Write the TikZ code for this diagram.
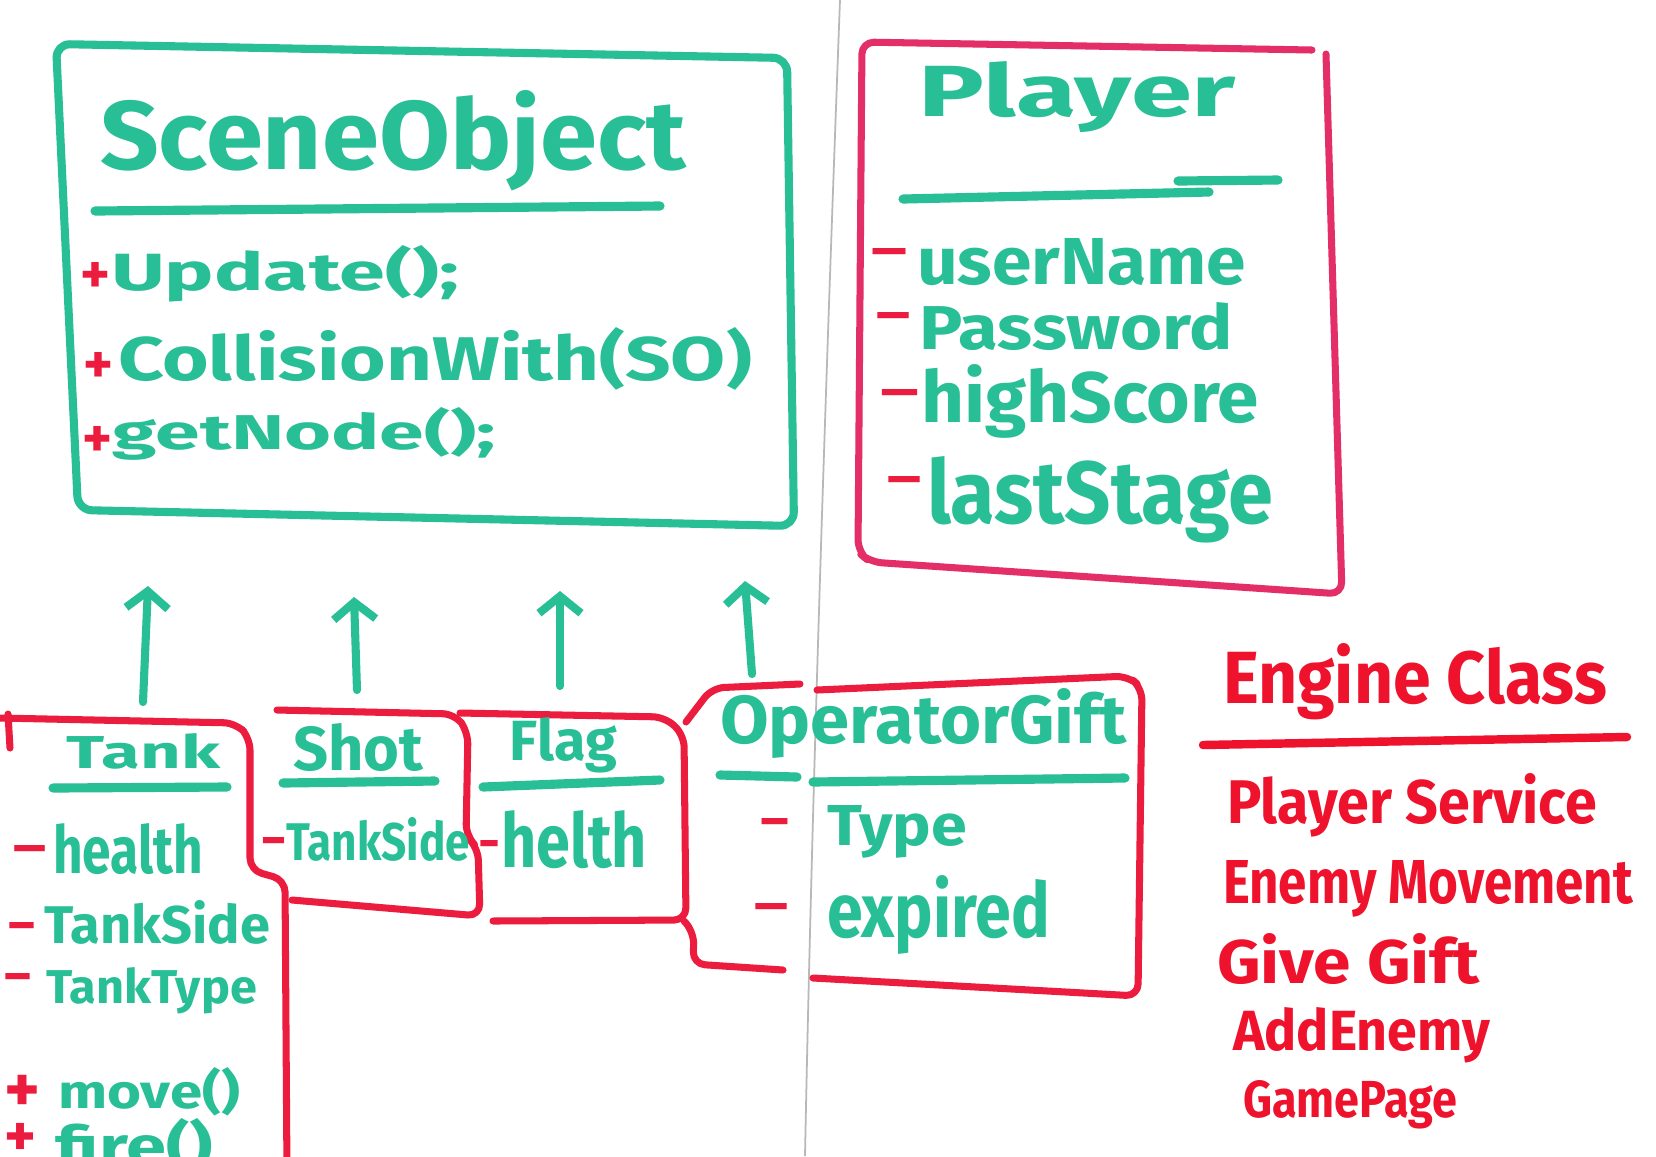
\documentclass[tikz,border=0pt]{standalone}
\usepackage{fontspec}
\setmainfont{Fira Sans}
\usepackage{graphicx}
\usetikzlibrary{arrows.meta}
\definecolor{mkgreen}{RGB}{40,190,150}
\definecolor{mkred}{RGB}{236,28,62}
\definecolor{mkpink}{RGB}{228,46,104}
\definecolor{mkink}{RGB}{238,18,44}
\newlength\px
\setlength\px{0.01cm}
% handwritten-like text fitted to a measured width and height
\newcommand\hw[3]{\resizebox{#1\px}{#2\px}{\bfseries #3}}
% plus sign fitted to a width
\newcommand\hs[2]{\resizebox{#1\px}{!}{\bfseries #2}}
% dash (minus) fitted to a width, fixed thickness
\newcommand\hd[1]{\resizebox{#1\px}{19\px}{\bfseries -}}
\tikzset{
  gline/.style={draw=mkgreen, line width=2.3pt, line cap=round, line join=round},
  rline/.style={draw=mkred, line width=2pt, line cap=round, line join=round, rounded corners=0.12cm},
  pline/.style={draw=mkpink, line width=2pt, line cap=round, line join=round, rounded corners=0.12cm},
  uline/.style={draw=mkgreen, line width=2.6pt, line cap=round},
  txt/.style={anchor=base west, inner sep=0pt, outer sep=0pt, text=mkgreen},
  rtxt/.style={txt, text=mkink},
  vis/.style={anchor=north, inner sep=0pt, outer sep=0pt, text=mkred},
  genarrow/.style={gline, -{Straight Barb[length=0.17cm, width=0.42cm]}},
  seamline/.style={draw=black!28, line width=0.5pt},
}
\begin{document}
\begin{tikzpicture}[x=0.01cm, y=-0.01cm]
\useasboundingbox (0,0) rectangle (1656,1156);
\clip (0,0) rectangle (1656,1156);
\fill[white] (0,0) rectangle (1656,1156);
% whiteboard seam
\draw[seamline] (840,0) .. controls (825,400) and (812,800) .. (805,1156);

% ---------- SceneObject ----------
\draw[gline, rounded corners=0.14cm] (56,44) -- (787,58) -- (794,526) -- (78,510) -- cycle;
\draw[uline] (95,211) -- (660,206);
\node[txt] (soT) at (100,169) {\hw{586}{79}{SceneObject}};
\node[vis] (soP1) at (95,262) {\hs{30}{+}};
\node[txt] (so1) at (111,290) {\hw{348}{45}{Update();}};
\node[vis] (soP2) at (98,352) {\hs{30}{+}};
\node[txt] (so2) at (118,380) {\hw{634}{53}{CollisionWith(SO)}};
\node[vis] (soP3) at (97,426) {\hs{30}{+}};
\node[txt] (so3) at (113,449) {\hw{383}{42}{getNode();}};

% ---------- Player ----------
\draw[pline] (1312,50) -- (862,42) -- (858,552) -- (870,562) -- (1342,594) -- (1326,54);
\draw[uline] (903,199) -- (1209,192);
\draw[uline] (1178,181) -- (1278,180);
\node[txt] (plT) at (919,116) {\hw{317}{55}{Player}};
\node[vis] (plD1) at (890,248) {\hd{42}};
\node[txt] (pl1) at (917,284) {\hw{329}{46}{userName}};
\node[vis] (plD2) at (894,312) {\hd{40}};
\node[txt] (pl2) at (919,349) {\hw{314}{47}{Password}};
\node[vis] (plD3) at (900,389) {\hd{45}};
\node[txt] (pl3) at (921,422) {\hw{338}{58}{highScore}};
\node[vis] (plD4) at (905,476) {\hd{40}};
\node[txt] (pl4) at (927,523) {\hw{346}{67}{lastStage}};

% ---------- inheritance arrows ----------
\coordinate (aTankFrom) at (143,702);
\coordinate (aTankTo) at (148,586);
\coordinate (aShotFrom) at (357,690);
\coordinate (aShotTo) at (354,597);
\coordinate (aFlagFrom) at (560,686);
\coordinate (aFlagTo) at (560,591);
\coordinate (aGiftFrom) at (752,674);
\coordinate (aGiftTo) at (745,581);
\draw[genarrow] (aTankFrom) -- (aTankTo);
\draw[genarrow] (aShotFrom) -- (aShotTo);
\draw[genarrow] (aFlagFrom) -- (aFlagTo);
\draw[genarrow] (aGiftFrom) -- (aGiftTo);

% ---------- Tank ----------
\draw[rline] (0,718) -- (236,723) -- (250,738) -- (250,870) -- (285,880) -- (287,1175);
\draw[rline] (8,714) -- (10,748);
\draw[uline] (53,788) -- (227,787);
\node[txt] (tkT) at (67,768) {\hw{153}{35}{Tank}};
\node[vis] (tkD1) at (30,845) {\hd{39}};
\node[txt] (tk1) at (53,873) {\hw{150}{50}{health}};
\node[vis] (tkD2) at (22,922) {\hd{31}};
\node[txt] (tk2) at (44,943) {\hw{226}{43}{TankSide}};
\node[vis] (tkD3) at (18,973) {\hd{31}};
\node[txt] (tk3) at (46,1003) {\hw{211}{36}{TankType}};
\node[vis] (tkP1) at (23,1075) {\hs{36}{+}};
\node[txt] (tk4) at (58,1108) {\hw{182}{41}{move()}};
\node[vis] (tkP2) at (20,1123) {\hs{32}{+}};
\node[txt] (tk5) at (56,1165) {\hw{157}{47}{fire()}};

% ---------- Shot ----------
\draw[rline] (277,710) -- (455,714) -- (468,732) -- (466,836) -- (478,848) -- (480,916) -- (292,900);
\draw[uline] (283,783) -- (435,781);
\node[txt] (shT) at (293,770) {\hw{130}{47}{Shot}};
\node[vis] (shD1) at (274,837) {\hd{27}};
\node[txt] (sh1) at (286,860) {\hw{184}{43}{TankSide}};

% ---------- Flag ----------
\draw[rline] (460,713) -- (665,717) -- (684,735) -- (686,920) -- (493,921);
\draw[uline] (483,787) -- (660,780);
\node[txt] (flT) at (510,760) {\hw{107}{43}{Flag}};
\node[vis] (flD1) at (489,840) {\hd{22}};
\node[txt] (fl1) at (501,867) {\hw{146}{57}{helth}};

% ---------- OperatorGift ----------
\draw[rline] (800,684) -- (712,688) -- (686,722);
\draw[rline] (684,921) -- (694,932) -- (693,964) -- (783,970);
\draw[rline] (817,690) -- (1128,676) -- (1142,688) -- (1138,996) -- (813,978);
\draw[uline] (720,775) -- (797,777);
\draw[uline] (813,782) -- (1125,778);
\node[txt] (ogT) at (720,743) {\hw{407}{55}{OperatorGift}};
\node[vis] (ogD1) at (775,818) {\hd{33}};
\node[txt] (og1) at (827,845) {\hw{140}{40}{Type}};
\node[vis] (ogD2) at (772,903) {\hd{40}};
\node[txt] (og2) at (827,937) {\hw{223}{62}{expired}};

% ---------- Engine Class ----------
\node[rtxt] (enT) at (1223,703) {\hw{384}{60}{Engine Class}};
\draw[draw=mkink, line width=2.4pt, line cap=round] (1203,745) -- (1627,737);
\node[rtxt] (en1) at (1227,823) {\hw{370}{50}{Player Service}};
\node[rtxt] (en2) at (1223,903) {\hw{410}{43}{Enemy Movement}};
\node[rtxt] (en3) at (1217,983) {\hw{263}{50}{Give Gift}};
\node[rtxt] (en4) at (1233,1050) {\hw{257}{43}{AddEnemy}};
\node[rtxt] (en5) at (1243,1117) {\hw{214}{37}{GamePage}};
\end{tikzpicture}
\end{document}
